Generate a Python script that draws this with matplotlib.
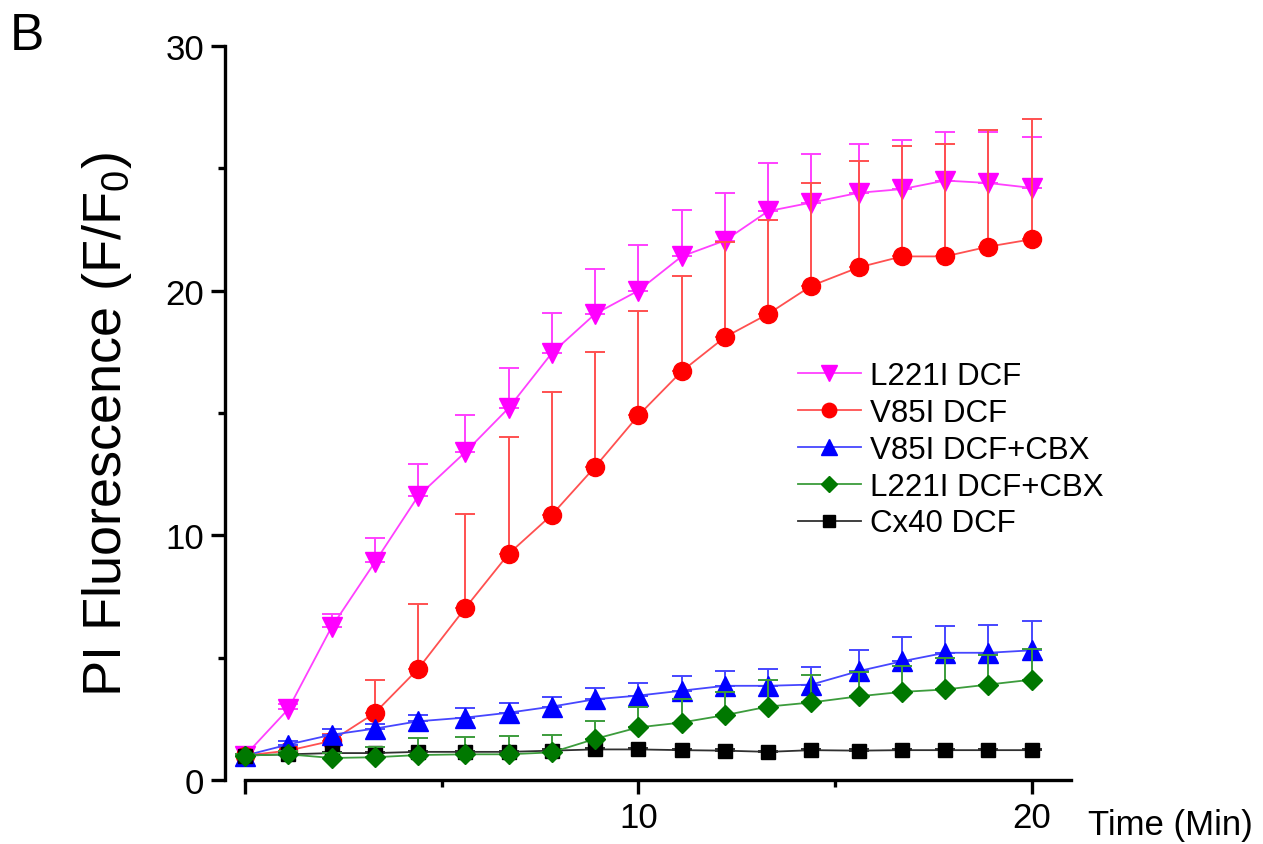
import matplotlib
matplotlib.use("Agg")
import matplotlib.pyplot as plt

plt.rcParams['font.family'] = ['Liberation Sans', 'DejaVu Sans']
plt.rcParams['mathtext.default'] = 'regular'

# time points (min)
time_min = [0, 1.1, 2.2, 3.3, 4.4, 5.6, 6.7, 7.8, 8.9, 10.0,
            11.1, 12.2, 13.3, 14.4, 15.6, 16.7, 17.8, 18.9, 20.0]

l221i_dcf = [1.0, 2.9, 6.25, 8.9, 11.6, 13.4, 15.2, 17.45, 19.05, 20.0,
             21.4, 22.05, 23.25, 23.6, 24.0, 24.15, 24.5, 24.4, 24.2]
l221i_dcf_sd = [0.05, 0.2, 0.55, 1.0, 1.3, 1.5, 1.65, 1.65, 1.85, 1.85,
                1.9, 1.95, 1.95, 2.0, 2.0, 2.0, 2.0, 2.1, 2.1]

v85i_dcf = [1.0, 1.2, 1.6, 2.74, 4.54, 7.03, 9.24, 10.84, 12.8, 14.9,
            16.7, 18.1, 19.05, 20.2, 20.95, 21.4, 21.4, 21.8, 22.1]
v85i_dcf_sd = [0.05, 0.15, 0.3, 1.36, 2.66, 3.84, 4.76, 5.01, 4.7, 4.25,
               3.9, 3.9, 3.85, 4.2, 4.35, 4.5, 4.6, 4.75, 4.9]

v85i_cbx = [1.0, 1.45, 1.85, 2.1, 2.4, 2.55, 2.75, 3.0, 3.3, 3.45,
            3.65, 3.85, 3.85, 3.9, 4.45, 4.85, 5.2, 5.2, 5.3]
v85i_cbx_sd = [0.05, 0.15, 0.25, 0.2, 0.25, 0.4, 0.4, 0.4, 0.45, 0.5,
               0.6, 0.6, 0.7, 0.7, 0.85, 1.0, 1.1, 1.15, 1.2]

l221i_cbx = [1.0, 1.05, 0.9, 0.93, 1.02, 1.05, 1.05, 1.13, 1.68, 2.15,
             2.35, 2.65, 3.0, 3.17, 3.42, 3.6, 3.7, 3.9, 4.1]
l221i_cbx_sd = [0.05, 0.15, 0.2, 0.42, 0.68, 0.7, 0.75, 0.72, 0.72, 0.85,
                0.95, 0.95, 1.1, 1.13, 0.98, 1.05, 1.3, 1.2, 1.25]

cx40_dcf = [1.0, 1.05, 1.1, 1.1, 1.15, 1.15, 1.15, 1.2, 1.25, 1.25,
            1.22, 1.2, 1.15, 1.22, 1.2, 1.22, 1.22, 1.22, 1.22]
cx40_dcf_sd = [0.05] * 19

# (label, mean, sd, marker, marker colour, line colour, marker size, z)
series = [
    ("L221I DCF", l221i_dcf, l221i_dcf_sd, "v", "#ff00ff", "#ff40ff", 14, 2),
    ("V85I DCF", v85i_dcf, v85i_dcf_sd, "o", "#ff0000", "#ff5050", 13, 3),
    ("V85I DCF+CBX", v85i_cbx, v85i_cbx_sd, "^", "#0000ff", "#4646ff", 14, 4),
    ("Cx40 DCF", cx40_dcf, cx40_dcf_sd, "s", "#000000", "#303030", 10, 5),
    ("L221I DCF+CBX", l221i_cbx, l221i_cbx_sd, "D", "#007800", "#3c9c3c", 10, 6),
]

fig = plt.figure(figsize=(12.63, 8.45), dpi=100)
ax = fig.add_axes([225 / 1263, 1 - 781 / 845, (1071 - 225) / 1263, (781 - 47) / 845])

handles = {}
for label, m, sd, mk, mc, lc, ms, z in series:
    zeros = [0] * len(sd)
    ax.errorbar(time_min, m, yerr=[zeros, sd], fmt="none", ecolor=lc,
                elinewidth=1.4, capsize=7, capthick=1.4, zorder=z, clip_on=False)
    h, = ax.plot(time_min, m, color=lc, linewidth=1.3, marker=mk, markersize=ms,
                 markerfacecolor=mc, markeredgecolor=mc, zorder=z + 0.5,
                 clip_on=False, label=label)
    handles[label] = h

ax.set_xlim(-0.51, 21.0)
ax.set_ylim(0, 30)

for s in ("top", "right"):
    ax.spines[s].set_visible(False)
ax.spines["left"].set_linewidth(2.4)
ax.spines["bottom"].set_linewidth(2.4)
ax.spines["bottom"].set_bounds(0, 21.0)

ax.set_xticks([0, 10, 20])
ax.set_xticklabels(["", "10", "20"])
ax.set_xticks([5, 15], minor=True)
ax.set_yticks([0, 10, 20, 30])
ax.set_yticks([5, 15, 25], minor=True)
ax.tick_params(which="major", length=10, width=2.4, labelsize=25, pad=5)
ax.tick_params(which="minor", length=5, width=2.4)

fig.text(107 / 1263, 1 - 425 / 845, "PI Fluorescence (F/F$_0$)", rotation=90,
         ha="center", va="center", fontsize=39)
fig.text(1088 / 1263, 1 - 826 / 845, "Time (Min)", ha="left", va="center",
         fontsize=25)
fig.text(10 / 1263, 1 - 36 / 845, "B", ha="left", va="center", fontsize=37)

order = ["L221I DCF", "V85I DCF", "V85I DCF+CBX", "L221I DCF+CBX", "Cx40 DCF"]
ax.legend([handles[k] for k in order], order, loc="upper left",
          bbox_to_anchor=(798 / 1263, 1 - 362 / 845), bbox_transform=fig.transFigure,
          frameon=False, fontsize=22.5, handlelength=2.0, handletextpad=0.3,
          labelspacing=0.22, borderpad=0, borderaxespad=0, markerscale=0.8)

fig.savefig("out.png", dpi=100)
